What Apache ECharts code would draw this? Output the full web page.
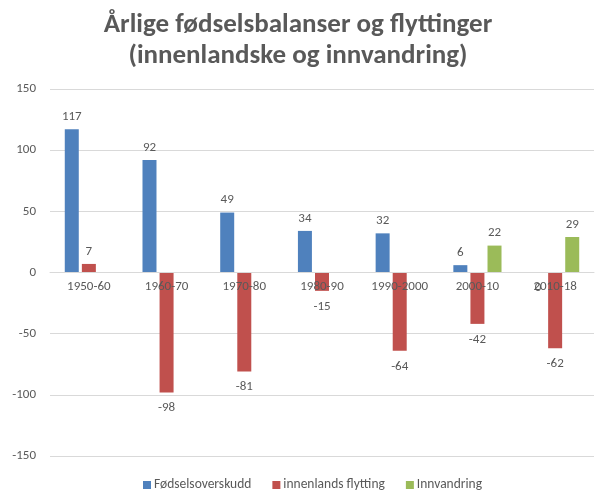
<!DOCTYPE html>
<html>
<head>
<meta charset="UTF-8">
<title>index</title>
<script src="https://cdn.jsdelivr.net/npm/echarts@6/dist/echarts.min.js"></script>
<style>
  html, body { margin: 0; padding: 0; background: #fff; }
  #main { width: 596px; height: 496px; }
</style>
</head>
<body>
<div id="main"></div>
<script>
const categories = ['1950-60', '1960-70', '1970-80', '1980-90', '1990-2000', '2000-10', '2010-18']
const fodselsoverskudd = [117, 92, 49, 34, 32, 6, 0]
const innenlandsFlytting = [7, -98, -81, -15, -64, -42, -62]
const innvandring = [null, null, null, null, null, 22, 29]
const yTicks = { min: -150, max: 150, interval: 50 }

const textColor = '#595959'
const font = 'Carlito, "Open Sans", sans-serif'

// labels above positive bars, below negative (and zero) ones
function withLabels(arr) {
  return arr.map(v => v == null ? null : {
    value: v,
    label: v <= 0 ? { position: 'bottom', distance: 9 } : { position: 'top' }
  })
}

function makeSeries(name, arr, color) {
  return {
    name: name,
    type: 'bar',
    barWidth: 14,
    barGap: '22%',
    data: withLabels(arr),
    itemStyle: { color: color },
    label: { show: true, color: textColor, fontSize: 13, fontFamily: font, distance: 6 }
  }
}

let chart = echarts.init(document.getElementById('main'))
chart.setOption({
  animation: false,
  title: {
    text: 'Årlige fødselsbalanser og flyttinger\n(innenlandske og innvandring)',
    left: 'center',
    top: 5,
    textStyle: { color: textColor, fontSize: 27, fontWeight: 'bold', fontFamily: font, lineHeight: 31 }
  },
  legend: {
    bottom: 4,
    left: 143,
    padding: 0,
    itemWidth: 8,
    itemHeight: 8,
    itemGap: 21,
    icon: 'rect',
    textStyle: { color: textColor, fontSize: 13.5, fontFamily: font, padding: [0, 0, 0, -2] }
  },
  grid: { left: 50, right: 2, top: 89, bottom: 40 },
  xAxis: {
    type: 'category',
    z: 5,
    data: categories,
    axisTick: { show: false },
    axisLine: { onZero: true, lineStyle: { color: '#d9d9d9' } },
    // labels sit just under the zero line, as in the original
    axisLabel: { color: textColor, fontSize: 13, fontFamily: font, margin: -176 }
  },
  yAxis: {
    type: 'value',
    min: yTicks.min,
    max: yTicks.max,
    interval: yTicks.interval,
    axisLine: { show: false },
    axisTick: { show: false },
    splitLine: { lineStyle: { color: '#d9d9d9' } },
    axisLabel: { color: textColor, fontSize: 13, fontFamily: font, margin: 14 }
  },
  series: [
    makeSeries('Fødselsoverskudd', fodselsoverskudd, '#4F81BD'),
    makeSeries('innenlands flytting', innenlandsFlytting, '#C0504D'),
    makeSeries('Innvandring', innvandring, '#9BBB59')
  ]
})
</script>
</body>
</html>
